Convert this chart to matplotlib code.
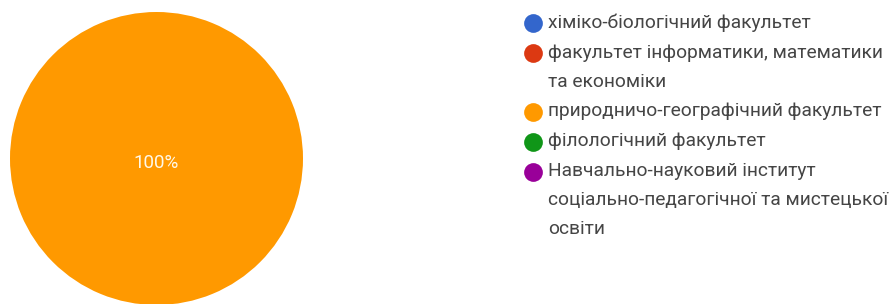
import matplotlib
matplotlib.use("Agg")
import matplotlib.pyplot as plt
from matplotlib.lines import Line2D

categories = [
    "хіміко-біологічний факультет",
    "факультет інформатики, математики\nта економіки",
    "природничо-географічний факультет",
    "філологічний факультет",
    "Навчально-науковий інститут\nсоціально-педагогічної та мистецької\nосвіти",
]
values = [0, 0, 100, 0, 0]
colors = ["#3366cc", "#dc3912", "#ff9900", "#109618", "#990099"]

plt.rcParams['font.family'] = ['Roboto', 'DejaVu Sans']

W, H = 894, 304
fig = plt.figure(figsize=(W / 100, H / 100), dpi=100)

cx, cy, r = 156.5, 158.5, 146.5
ax = fig.add_axes([(cx - r) / W, (H - cy - r) / H, 2 * r / W, 2 * r / H])

def fmt(p):
    return f"{p:.0f}%" if p > 0 else ""

wedges, texts, autotexts = ax.pie(
    values, colors=colors, startangle=90, counterclock=False,
    autopct=fmt, pctdistance=0.0, radius=1.0,
    textprops=dict(color="#fff8e8", fontsize=13.5),
    wedgeprops=dict(linewidth=0),
)
ax.set_xlim(-1, 1)
ax.set_ylim(-1, 1)
ax.axis('off')
for w in wedges:
    w.set_clip_on(False)
for t in autotexts:
    t.set_va('center')
    t.set_position((0, -0.03))

# legend
x_marker = 533 / W
x_text = 548 / W
line_h = 28.5
entry_gap = 1.5
y = 23
for lab, c in zip(categories, colors):
    fig.add_artist(Line2D([x_marker], [1 - y / H], marker='o', markersize=13.5,
                          color=c, markeredgewidth=0, linestyle='None',
                          transform=fig.transFigure))
    for i, line in enumerate(lab.split("\n")):
        fig.text(x_text, 1 - (y + i * line_h) / H, line.strip(), fontsize=13.8,
                 color="#454545", va='center', ha='left',
                 transform=fig.transFigure)
    y += line_h * (lab.count("\n") + 1) + entry_gap

fig.savefig("out.png", dpi=100)
